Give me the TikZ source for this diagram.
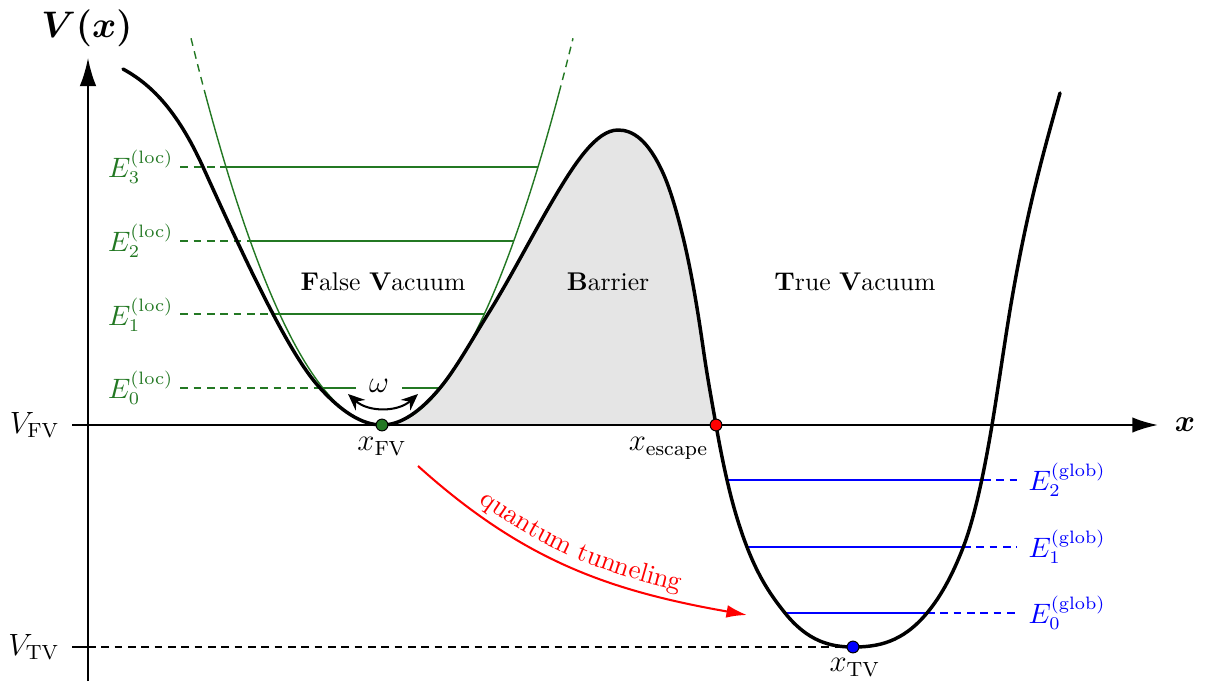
\documentclass[tikz,border=0pt]{standalone}
\usepackage{bm}
\usetikzlibrary{arrows.meta,decorations.text}
\definecolor{fvgreen}{RGB}{35,120,35}
\newcommand\Vcurve{(123,613)
 .. controls (149.67,598.33) and (176.33,573.67) .. (203,515)
 .. controls (226.33,463.67) and (249.67,412.33) .. (273,368)
 .. controls (288.67,338.23) and (304.33,311.23) .. (320,294)
 .. controls (340.67,271.27) and (361.33,257) .. (382,257)
 .. controls (401.33,257) and (420.67,270.8) .. (440,294)
 .. controls (456,313.2) and (472,342.4) .. (488,368)
 .. controls (509.67,402.67) and (531.33,445.17) .. (553,482)
 .. controls (574.67,518.83) and (596.33,552) .. (618,552)
 .. controls (633,552) and (648,542) .. (663,509)
 .. controls (669.67,494.3) and (676.33,472.3) .. (683,445)
 .. controls (689.67,417.7) and (696.33,381.7) .. (703,335)
 .. controls (707.33,304.7) and (711.67,281.7) .. (716,257)
 .. controls (722.9,217.67) and (729.8,187.8) .. (736.7,165)
 .. controls (752.8,111.9) and (768.9,89.1) .. (785,69)
 .. controls (807.67,40.7) and (830.33,35) .. (853,35)
 .. controls (877.67,35) and (902.33,39.4) .. (927,69)
 .. controls (939.1,83.52) and (951.2,103.54) .. (963.3,135)
 .. controls (972.87,159.88) and (982.43,199.6) .. (992,257)
 .. controls (998.57,296.4) and (1005.13,343.9) .. (1011.7,382)
 .. controls (1027.8,475.38) and (1043.9,531.04) .. (1060,589)}
\begin{document}
\begin{tikzpicture}[x=0.39pt,y=0.39pt,
  curve/.style={line width=1.35pt, line join=round, line cap=round},
  axis/.style={line width=0.8pt},
  gline/.style={fvgreen, line width=0.75pt},
  gpar/.style={fvgreen, line width=0.55pt},
  bline/.style={blue, line width=0.85pt},
  dsh/.style={dash pattern=on 3pt off 2.2pt},
  elbl/.style={inner sep=0pt, font=\fontsize{10.5}{12}\selectfont},
  xl/.style={inner sep=0pt, font=\fontsize{12}{14}\selectfont},
  region/.style={inner sep=0pt, font=\fontsize{10}{12}\selectfont},
  dot/.style={circle, draw=black, line width=0.4pt, minimum size=4.6pt, inner sep=0pt},
]
\useasboundingbox (0,0) rectangle (1207,682);

% barrier fill
\begin{scope}
  \clip (382,257) rectangle (716,682);
  \fill[gray!20] \Vcurve -- (1060,257) -- (123,257) -- cycle;
\end{scope}

% axes
\draw[axis, -{Latex[length=10pt,width=6pt]}] (72,257) -- (1158,257);
\draw[axis, -{Latex[length=11pt,width=6.5pt]}] (88,1) -- (88,624);
\node[font=\fontsize{12.5}{14}\selectfont, inner sep=0pt] (xlab) at (1185,257) {$\bm{x}$};
\node[font=\fontsize{14}{16}\selectfont, inner sep=0pt] (vlab) at (87,654) {$\bm{V(x)}$};
\node[xl, anchor=east] (vfv) at (60,257) {$V_{\mathrm{FV}}$};
\node[xl, anchor=east] (vtv) at (60,35) {$V_{\mathrm{TV}}$};
\draw[axis] (72,35) -- (88,35);

% green harmonic approximation
\draw[gpar] plot[domain=-177:177, samples=90] ({382+\x},{257+1.06*(\x/10)*(\x/10)});
\draw[gpar, dsh] plot[domain=-191:-177, samples=10] ({382+\x},{257+1.06*(\x/10)*(\x/10)});
\draw[gpar, dsh] plot[domain=177:191, samples=10] ({382+\x},{257+1.06*(\x/10)*(\x/10)});

% local levels
\node[elbl, anchor=east, text=fvgreen] (e0l) at (174,293.85) {$E_0^{(\mathrm{loc})}$};
\node[elbl, anchor=east, text=fvgreen] (e1l) at (174,367.55) {$E_1^{(\mathrm{loc})}$};
\node[elbl, anchor=east, text=fvgreen] (e2l) at (174,441.25) {$E_2^{(\mathrm{loc})}$};
\node[elbl, anchor=east, text=fvgreen] (e3l) at (174,514.95) {$E_3^{(\mathrm{loc})}$};
\draw[gline, dsh] ([xshift=2.5pt]e0l.east) -- (323,293.85);
\draw[gline] (323,293.85) -- (441,293.85);
\draw[gline, dsh] ([xshift=2.5pt]e1l.east) -- (279.9,367.55);
\draw[gline] (279.9,367.55) -- (484.1,367.55);
\draw[gline, dsh] ([xshift=2.5pt]e2l.east) -- (250.2,441.25);
\draw[gline] (250.2,441.25) -- (513.8,441.25);
\draw[gline, dsh] ([xshift=2.5pt]e3l.east) -- (226,514.95);
\draw[gline] (226,514.95) -- (538,514.95);

% omega
\node[fill=white, inner xsep=5pt, inner ysep=1pt, font=\fontsize{12}{14}\selectfont] (om) at (379,296) {$\omega$};
\coordinate (wl) at (348,288);
\coordinate (wr) at (418,288);
\draw[line width=0.8pt, {Stealth[length=6.5pt,width=5.5pt]}-{Stealth[length=6.5pt,width=5.5pt]}] (wl) to[bend right=42] (wr);

% global levels
\draw[bline] (727,202) -- (983,202);
\draw[bline, dsh] (983,202) -- (1017,202);
\draw[bline] (747,135) -- (963,135);
\draw[bline, dsh] (963,135) -- (1017,135);
\draw[bline] (785,69) -- (927,69);
\draw[bline, dsh] (927,69) -- (1017,69);
\node[elbl, anchor=west, text=blue] (e2g) at (1028,202) {$E_2^{(\mathrm{glob})}$};
\node[elbl, anchor=west, text=blue] (e1g) at (1028,135) {$E_1^{(\mathrm{glob})}$};
\node[elbl, anchor=west, text=blue] (e0g) at (1028,69) {$E_0^{(\mathrm{glob})}$};

% potential
\draw[curve] \Vcurve;

% regions
\node[region] (fvr) at (383,400) {\textbf{F}alse \textbf{V}acuum};
\node[region] (bar) at (608,400) {\textbf{B}arrier};
\node[region] (tvr) at (855,400) {\textbf{T}rue \textbf{V}acuum};

% points
\node[dot, fill=fvgreen] (xfv) at (382,257) {};
\node[dot, fill=red] (xesc) at (716,257) {};
\node[dot, fill=blue] (xtv) at (853,35) {};
\draw[axis, dsh] (88,35) -- (xtv.west);
\node[xl, anchor=north] (lxfv) at (382,245) {$x_{\mathrm{FV}}$};
\node[xl, anchor=north east] (lxesc) at (709,245) {$x_{\mathrm{escape}}$};
\node[xl, anchor=north] (lxtv) at (855,24) {$x_{\mathrm{TV}}$};

% tunneling
\coordinate (qs) at (418,216);
\coordinate (qe) at (747,67);
\draw[red, line width=0.8pt, -{Latex[length=8pt,width=5pt]}] (qs) to[out=-42,in=170] (qe);
\path[decorate, decoration={text along path, text={|\color{red}\fontsize{10.5}{12}\selectfont|quantum tunneling}, text align=center, raise=4pt}] (qs) to[out=-42,in=170] (qe);
\end{tikzpicture}
\end{document}
